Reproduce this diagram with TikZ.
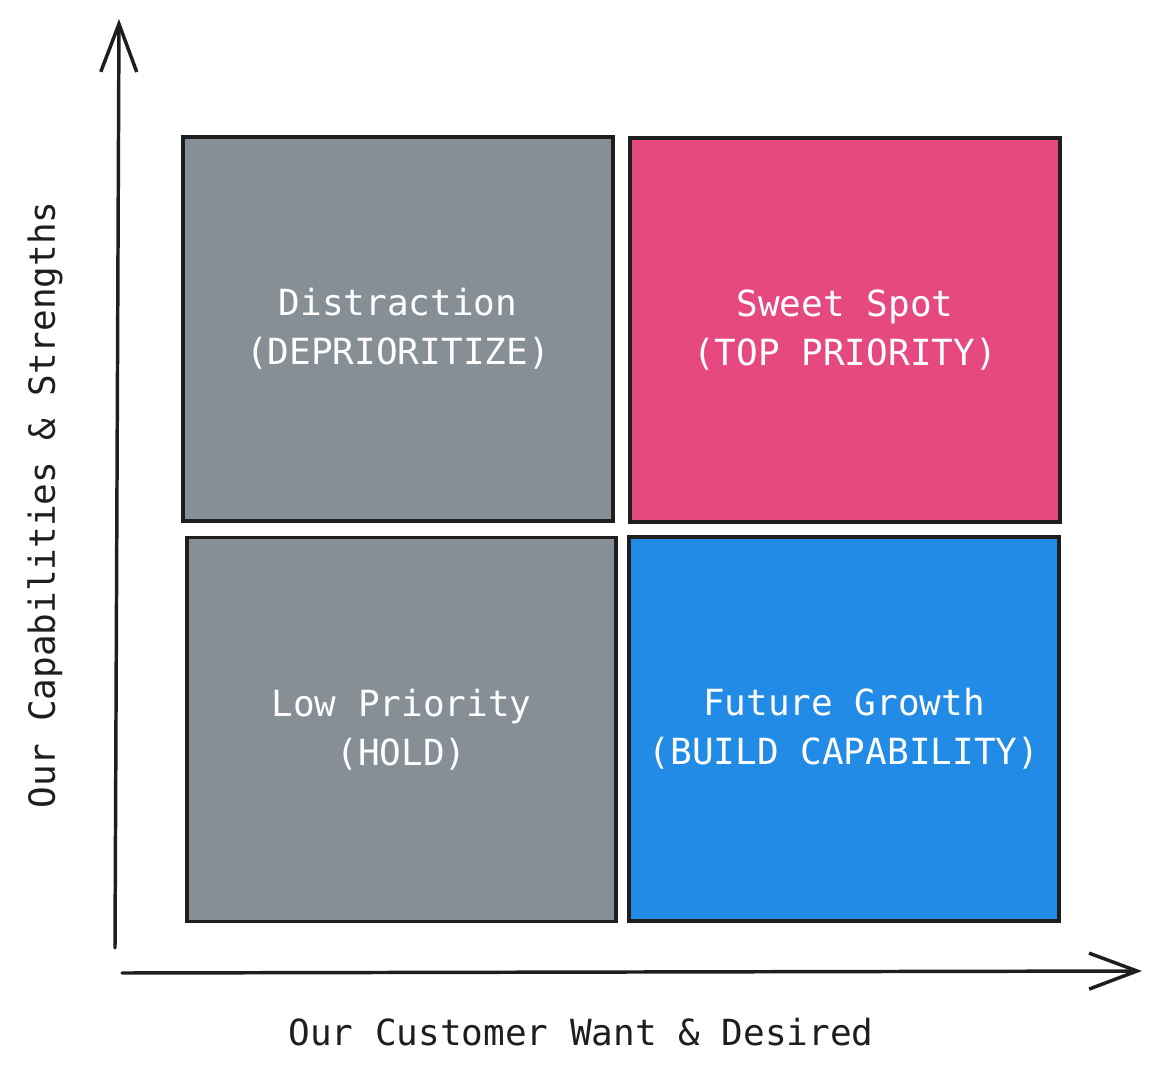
\documentclass[tikz,border=0pt]{standalone}
\usepackage{fontspec}
\setmonofont{DejaVu Sans Mono}
\usepackage{xcolor}
\usetikzlibrary{arrows.meta}
\definecolor{ink}{HTML}{1E1E1E}
\definecolor{slate}{HTML}{868E96}
\definecolor{rose}{HTML}{E64980}
\definecolor{azure}{HTML}{228BE6}
\tikzset{
  axis/.style={-{Straight Barb[length=36pt,width=27pt,line width=2.6pt]}, draw=ink, line width=2.6pt, line cap=round},
  quad/.style={draw=ink, line width=2.8pt, minimum width=322pt, minimum height=288pt, align=center, text=white, font=\ttfamily\fontsize{27}{36.8}\selectfont},
  lab/.style={text=ink, font=\ttfamily\fontsize{27}{36.8}\selectfont}
}
\begin{document}
\begin{tikzpicture}[x=0.75pt,y=-0.75pt]
  \useasboundingbox (0,0) rectangle (1160,1080);
  \coordinate (O1) at (115,948);
  \coordinate (Ytip) at (119,19);
  \coordinate (O2) at (122,973);
  \coordinate (Xtip) at (1142,971);

  \draw[axis] (O1) -- (Ytip);
  \draw[axis] (O2) -- (Xtip);

  % the four quadrants
  \node[quad, fill=slate] (distraction) at (398,329) {Distraction\\(DEPRIORITIZE)};
  \node[quad, fill=rose] (sweet) at (845,330) {Sweet Spot\\(TOP PRIORITY)};
  \node[quad, fill=slate] (low) at (401.5,729.5) {Low Priority\\(HOLD)};
  \node[quad, fill=azure] (future) at (844,729) {Future Growth\\(BUILD CAPABILITY)};

  \node[lab, rotate=90] (ylab) at (45,505) {Our Capabilities \& Strengths};
  \node[lab] (xlab) at (581,1032) {Our Customer Want \& Desired};
\end{tikzpicture}
\end{document}
